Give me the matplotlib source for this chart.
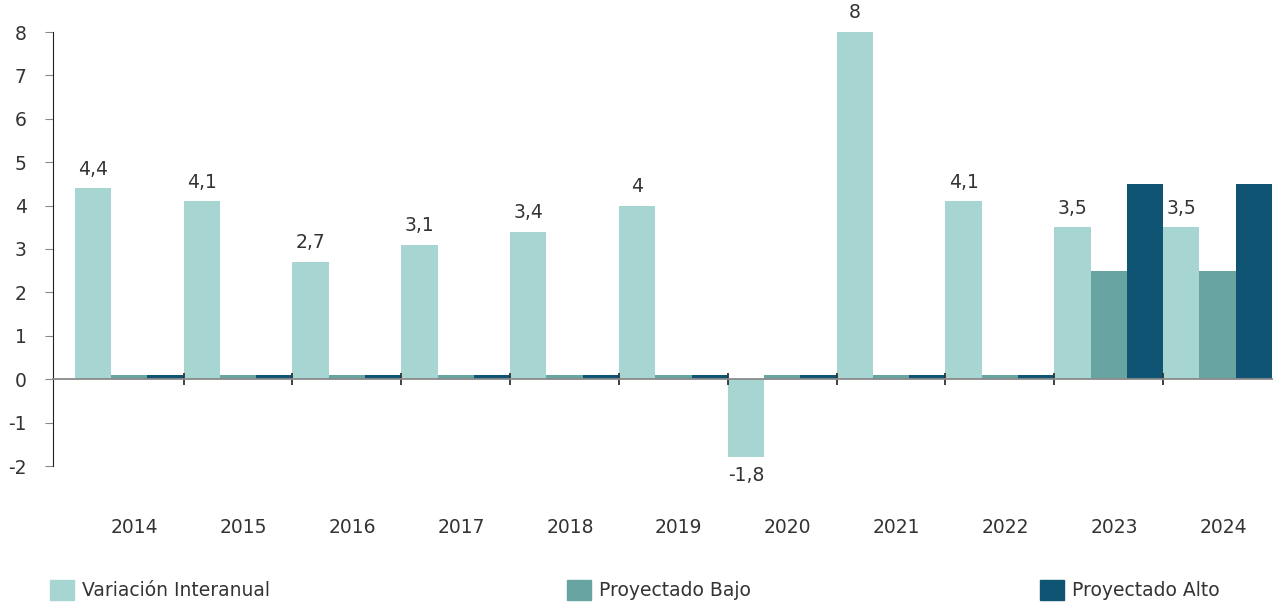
import matplotlib.pyplot as plt
import numpy as np
from matplotlib.patches import Patch

years = ['2014', '2015', '2016', '2017', '2018', '2019', '2020', '2021', '2022', '2023', '2024']
variacion = [4.4, 4.1, 2.7, 3.1, 3.4, 4.0, -1.8, 8.0, 4.1, 3.5, 3.5]
proy_bajo = [0.1, 0.1, 0.1, 0.1, 0.1, 0.1, 0.1, 0.1, 0.1, 2.5, 2.5]
proy_alto = [0.1, 0.1, 0.1, 0.1, 0.1, 0.1, 0.1, 0.1, 0.1, 4.5, 4.5]

c_var = '#a6d5d2'
c_bajo = '#68a4a1'
c_alto = '#0f5473'
txt = '#333333'

plt.rcParams['font.family'] = 'DejaVu Sans'
plt.rcParams['axes.unicode_minus'] = False

fig = plt.figure(figsize=(12.74, 6.03), dpi=100)
ax = fig.add_axes([53 / 1274, 1 - 466 / 603, 1219 / 1274, 434 / 603])

x = np.arange(len(years))
w = 1 / 3
ax.bar(x - w, variacion, w, color=c_var, label='Variación Interanual')
ax.bar(x, proy_bajo, w, color=c_bajo, label='Proyectado Bajo')
ax.bar(x + w, proy_alto, w, color=c_alto, label='Proyectado Alto')

# value labels for the yearly variation
for xi, v in zip(x, variacion):
    s = f'{v:g}'.replace('.', ',')
    if v >= 0:
        ax.annotate(s, (xi - w, v), xytext=(0, 7), textcoords='offset points',
                    ha='center', va='bottom', fontsize=13.5, color=txt)
    else:
        ax.annotate(s, (xi - w, v), xytext=(0, -6), textcoords='offset points',
                    ha='center', va='top', fontsize=13.5, color=txt)

ax.set_xlim(-0.7, len(years) - 0.5)
ax.set_ylim(-2, 8)
ax.set_yticks(range(-2, 9))

ax.spines['top'].set_visible(False)
ax.spines['right'].set_visible(False)
ax.spines['left'].set_color('#222222')
ax.spines['bottom'].set_position(('data', 0))
ax.spines['bottom'].set_color('#8a8a8a')
ax.spines['bottom'].set_linewidth(1.3)

ax.tick_params(axis='y', length=6, color='#888888', pad=13, labelsize=13.5, labelcolor=txt)
ax.set_xticks(x + 0.05)
ax.set_xticklabels(years)
ax.set_xticks(x[:-1] + 0.5, minor=True)
ax.tick_params(axis='x', which='major', length=0, pad=100, labelsize=13.5, labelcolor=txt)
ax.tick_params(axis='x', which='minor', length=8, direction='inout', color='#333333', width=1.3)

handles = [Patch(color=c_var), Patch(color=c_bajo), Patch(color=c_alto)]
labels = ['Variación Interanual', 'Proyectado Bajo', 'Proyectado Alto']
for h, l, xpos in zip(handles, labels, [33, 550, 1023]):
    fig.legend([h], [l], loc='center left', bbox_to_anchor=(xpos / 1274, 1 - 590 / 603),
               frameon=False, fontsize=13.5, handlelength=1.3, handleheight=1.3,
               handletextpad=0.4, labelcolor=txt)

fig.savefig('out.png', dpi=100)
